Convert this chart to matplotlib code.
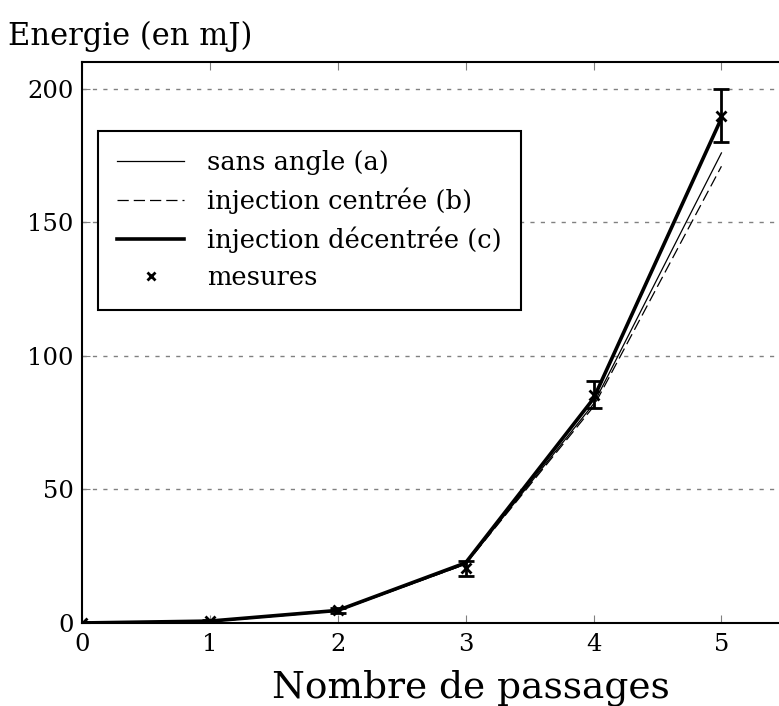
import matplotlib
matplotlib.use('Agg')
import matplotlib.pyplot as plt
from matplotlib.lines import Line2D

passages = [0, 1, 2, 3, 4, 5]
sans_angle = [0, 0.5, 4.5, 22, 82, 176]
inj_centree = [0, 0.5, 4.5, 22, 81, 171]
inj_decentree = [0, 0.7, 4.7, 22.5, 84, 189]
mesures = [0, 0.7, 4.7, 20.5, 85.5, 190]
erreurs = [0.3, 0.5, 1, 2.8, 5, 10]

plt.rcParams['font.family'] = ['DejaVu Serif']

fig = plt.figure(figsize=(7.79, 7.06), dpi=100)
ax = fig.add_axes([0.105, 0.1176, 0.895, 0.7944])

l1, = ax.plot(passages, sans_angle, color='black', lw=0.9)
l2, = ax.plot(passages, inj_centree, color='black', lw=0.9, ls=(0, (9, 4)))
l3, = ax.plot(passages, inj_decentree, color='black', lw=2.6)
ax.errorbar(passages, mesures, yerr=erreurs, fmt='x', color='black', ms=7, mew=2,
            elinewidth=2, capsize=5.5, capthick=2)

ax.set_xlim(0, 5.45)
ax.set_ylim(0, 210)
ax.set_xticks([0, 1, 2, 3, 4, 5])
ax.set_yticks([0, 50, 100, 150, 200])
ax.tick_params(axis='both', direction='in', labelsize=17.5, length=6, color='gray',
               top=True, right=False)
ax.tick_params(axis='x', pad=7)
ax.tick_params(axis='y', pad=6)
ax.yaxis.grid(True, ls=(0, (3, 4.5)), color='gray', lw=1)
ax.spines['right'].set_visible(False)
for s in ['left', 'bottom', 'top']:
    ax.spines[s].set_linewidth(1.5)

ax.set_xlabel('Nombre de passages', fontsize=27, labelpad=10, x=0.558)
fig.text(0.01, 0.948, 'Energie (en mJ)', fontsize=22, ha='left', va='center')

marker = Line2D([], [], ls='none', marker='x', color='black', ms=6, mew=2)
leg = ax.legend([l1, l2, l3, marker],
                ['sans angle (a)', 'injection centrée (b)', 'injection décentrée (c)', 'mesures'],
                loc='upper left', bbox_to_anchor=(0.023, 0.877), borderaxespad=0,
                fontsize=18.5, frameon=True, fancybox=False, edgecolor='black',
                framealpha=1, handlelength=2.6, handletextpad=0.9, borderpad=0.75,
                labelspacing=0.48)
leg.get_frame().set_linewidth(1.5)

fig.savefig('out.png', dpi=100)
